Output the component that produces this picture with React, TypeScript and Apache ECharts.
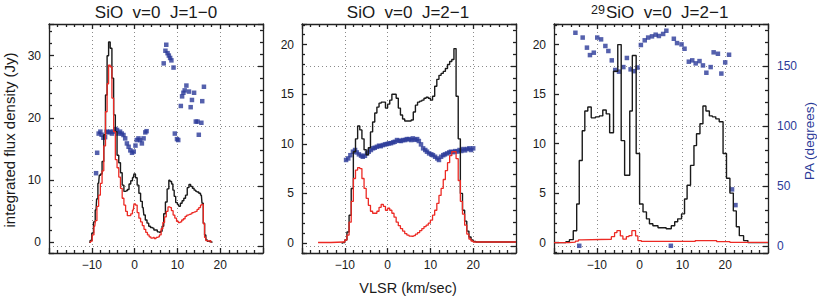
import React, { useEffect, useRef } from "react";
import * as echarts from "echarts";

const FONT = "'Liberation Sans', Arial, Helvetica, sans-serif";
const BLUE = "#2b3a98";
const RED = "#ec2a24";
const BLACK = "#1a1a1a";
const FRAME = "#222222";

// ---------- Panel 1 : SiO v=0 J=1-0 ----------
const p1Total: [number, number][] = [
  [-10.6, 0], [-10.2, 0.3], [-9.8, 1.5], [-9.4, 3.3], [-9.0, 5.2], [-8.75, 7], [-8.4, 9.5], [-8.1, 10.8],
  [-7.8, 11], [-7.4, 13], [-7.0, 17.3], [-6.6, 23.7], [-6.25, 30], [-5.9, 32.2], [-5.5, 31.2], [-5.1, 26.4],
  [-4.7, 20.5], [-4.3, 17.8], [-3.9, 14], [-3.5, 12.8], [-3.1, 11.2], [-2.7, 9.2], [-2.3, 8.2], [-1.9, 8.3],
  [-1.5, 8.5], [-1.1, 9.4], [-0.7, 9.9], [-0.3, 10.4], [0.0, 11.0], [0.4, 10.4], [0.8, 9.2], [1.2, 7.9],
  [1.6, 6.6], [2.0, 5.6], [2.3, 4.4], [2.7, 3.6], [3.1, 3.1], [3.5, 2.6], [3.9, 2.4], [4.3, 2.3], [4.7, 2.0],
  [5.1, 2.0], [5.5, 1.7], [5.9, 1.6], [6.25, 1.8], [6.6, 2.6], [7.0, 4.6], [7.4, 6.5], [7.8, 8.6],
  [8.2, 10.0], [8.5, 9.8], [8.8, 9.4], [9.1, 8.4], [9.4, 7.4], [9.8, 6.4], [10.2, 6.1], [10.5, 5.8],
  [10.9, 6.3], [11.3, 6.7], [11.7, 7.1], [12.1, 7.6], [12.5, 8.8], [12.9, 9.3], [13.3, 9.0], [13.7, 8.7],
  [14.1, 8.4], [14.5, 8.2], [14.8, 8.1], [15.2, 7.9], [15.6, 7.6], [15.9, 6.3], [16.2, 3.1], [16.5, 1.2],
  [16.8, 0.4], [17.2, 0.2], [17.6, 0.1], [18.2, 0],
];
const p1Pol: [number, number][] = [
  [-10.5, 0], [-10.1, 0.2], [-9.7, 1.2], [-9.3, 2.6], [-9.0, 3.5], [-8.6, 5.8], [-8.2, 7.6], [-7.8, 9.5],
  [-7.4, 11.5], [-7.0, 15.5], [-6.6, 21], [-6.25, 25.5], [-5.9, 28.5], [-5.5, 28.2], [-5.1, 23.2],
  [-4.7, 17.8], [-4.3, 13.3], [-3.9, 12], [-3.5, 10.5], [-3.1, 8.7], [-2.7, 7.1], [-2.3, 6.0], [-1.9, 5.0],
  [-1.5, 4.3], [-1.1, 4.3], [-0.7, 4.6], [-0.3, 5.2], [0.0, 6.2], [0.4, 6.0], [0.8, 4.8], [1.2, 3.9],
  [1.6, 3.3], [2.0, 2.7], [2.4, 2.1], [2.8, 1.6], [3.2, 1.2], [3.6, 0.9], [4.0, 0.7], [4.4, 0.8], [4.8, 0.6],
  [5.2, 0.8], [5.6, 0.9], [6.0, 1.2], [6.4, 2.2], [6.8, 3.2], [7.2, 4.1], [7.6, 5.0], [8.0, 5.7], [8.4, 5.6],
  [8.8, 5.1], [9.2, 4.4], [9.6, 3.9], [10.0, 3.4], [10.4, 3.2], [10.8, 3.3], [11.2, 3.6], [11.6, 3.8],
  [12.0, 4.2], [12.4, 4.4], [12.8, 4.5], [13.2, 4.6], [13.6, 4.8], [14.0, 4.9], [14.4, 5.0], [14.8, 5.3],
  [15.2, 5.6], [15.6, 6.0], [15.9, 6.1], [16.2, 3.0], [16.5, 0.8], [16.8, 0.3], [17.2, 0.2], [17.6, 0.3],
  [18.0, 0.05],
];
const p1PA: [number, number][] = [
  [-9.0, 61], [-8.75, 78], [-8.4, 94], [-8.0, 95.6], [-7.7, 93], [-7.3, 90.5], [-6.9, 91], [-6.5, 95.6],
  [-6.1, 95], [-5.7, 95.6], [-5.3, 94], [-4.9, 95.6], [-4.5, 97.8], [-4.1, 97], [-3.75, 94], [-3.4, 95.6],
  [-3.0, 94], [-2.6, 92.8], [-2.2, 90], [-1.8, 85.8], [-1.4, 83], [-1.0, 80], [-0.6, 78], [-0.2, 79],
  [0.2, 84], [0.5, 88.6], [0.9, 90], [1.3, 88.6], [1.7, 85.8], [2.1, 90], [2.5, 95], [2.8, 96],
  [6.8, 152.5], [7.2, 163], [7.4, 168], [7.7, 161], [8.0, 159], [8.3, 157], [8.6, 155], [9.1, 149],
  [9.4, 94], [9.9, 89.4], [10.2, 88.6], [10.8, 117], [11.1, 125], [11.4, 128], [11.7, 130], [12.1, 134],
  [12.7, 129], [13.1, 116], [13.4, 122], [13.9, 128], [14.3, 104], [14.7, 104], [15.0, 93], [15.6, 103],
  [15.8, 121], [16.2, 133],
];

// ---------- Panel 2 : SiO v=0 J=2-1 ----------
const p2Total: [number, number][] = [
  [-10.75, 0], [-10.25, 0.05], [-9.75, 0.3], [-9.25, 1.1], [-8.75, 2.8], [-8.25, 5.5], [-7.75, 9.2],
  [-7.25, 10.5], [-6.75, 11.8], [-6.25, 11.4], [-5.75, 10.5], [-5.25, 9.4], [-4.75, 8.9], [-4.25, 9.6],
  [-3.75, 11.2], [-3.25, 12.2], [-2.75, 13.1], [-2.25, 13.7], [-1.75, 14.1], [-1.25, 14.2], [-0.75, 14.2],
  [-0.25, 13.6], [0.25, 14.0], [0.75, 14.4], [1.25, 15.0], [1.75, 15.0], [2.25, 14.6], [2.75, 13.6],
  [3.25, 12.9], [3.75, 12.5], [4.25, 12.3], [4.75, 12.3], [5.25, 12.3], [5.75, 12.4], [6.25, 13.2],
  [6.75, 13.9], [7.25, 14.2], [7.75, 14.3], [8.25, 14.4], [8.75, 14.6], [9.25, 14.7], [9.75, 14.6],
  [10.25, 14.4], [10.75, 14.8], [11.25, 15.8], [11.75, 16.5], [12.25, 16.9], [12.75, 17.1], [13.25, 17.3],
  [13.75, 17.6], [14.25, 18.0], [14.75, 18.3], [15.25, 18.5], [15.75, 19.6], [16.25, 14.8], [16.75, 10.5],
  [17.25, 5.0], [17.75, 3.3], [18.25, 2.2], [18.75, 1.2], [19.25, 0.6], [19.75, 0.3], [20.25, 0.15],
  [20.75, 0.1], [30, 0.1],
];
const p2Pol: [number, number][] = [
  [-16.25, 0.05], [-10.25, 0.1], [-9.75, 0.3], [-9.25, 0.8], [-8.75, 2.1], [-8.25, 4.2], [-7.75, 6.5],
  [-7.25, 7.35], [-6.75, 7.6], [-6.25, 7.5], [-5.75, 6.5], [-5.25, 5.5], [-4.75, 4.5], [-4.25, 3.8],
  [-3.75, 3.2], [-3.25, 3.0], [-2.75, 3.0], [-2.25, 3.2], [-1.75, 3.6], [-1.25, 3.9], [-0.75, 3.7],
  [-0.25, 3.3], [0.25, 3.5], [0.75, 3.3], [1.25, 3.0], [1.75, 2.6], [2.25, 2.1], [2.75, 1.75], [3.25, 1.45],
  [3.75, 1.2], [4.25, 0.95], [4.75, 0.8], [5.25, 0.7], [5.75, 0.68], [6.25, 0.75], [6.75, 0.9], [7.25, 1.05],
  [7.75, 1.25], [8.25, 1.45], [8.75, 1.65], [9.25, 1.8], [9.75, 2.0], [10.25, 2.3], [10.75, 2.8], [11.25, 3.3],
  [11.75, 4.0], [12.25, 4.8], [12.75, 5.5], [13.25, 6.4], [13.75, 7.3], [14.25, 8.1], [14.75, 8.8],
  [15.25, 9.2], [15.75, 9.2], [16.25, 8.5], [16.75, 6.3], [17.25, 4.2], [17.75, 2.9], [18.25, 1.8],
  [18.75, 0.9], [19.25, 0.4], [19.75, 0.2], [20.25, 0.1], [30, 0.1],
];
const p2PA: [number, number][] = [
  [-9.7, 72], [-9.2, 73.3], [-8.7, 76], [-8.1, 78.9], [-7.6, 80.3], [-7.2, 78.3], [-6.7, 76.7], [-6.2, 75.6],
  [-5.8, 74.7], [-5.3, 75.5], [-4.8, 77.5], [-4.4, 78.9], [-3.9, 80.3], [-3.4, 81.7], [-3.0, 82.2],
  [-2.5, 83], [-2.0, 83.9], [-1.6, 83.5], [-1.1, 84.4], [-0.6, 85], [-0.15, 85.3], [0.3, 85.8], [0.8, 86],
  [1.3, 86.7], [1.7, 87.2], [2.2, 88.6], [2.7, 88], [3.1, 87.8], [3.6, 88.6], [4.1, 88.6], [4.5, 89.4],
  [5.0, 89.4], [5.5, 88.6], [5.9, 90], [6.4, 88.8], [6.9, 89.4], [7.3, 87.8], [7.8, 85], [8.3, 81.7],
  [8.8, 80.3], [9.2, 78.9], [9.7, 77.5], [10.2, 76.7], [10.6, 76], [11.1, 74.7], [11.6, 73.3], [12.0, 72],
  [12.5, 74.7], [13.0, 76], [13.4, 76.7], [13.9, 77.5], [14.4, 78.3], [14.8, 78.9], [15.3, 78.5],
  [15.8, 79.4], [16.3, 79], [16.8, 80.3], [17.2, 79.5], [17.7, 81.1], [18.1, 80], [18.6, 81.1],
  [19.1, 81.7], [19.5, 80.3], [20.0, 81.7],
];

// ---------- Panel 3 : 29SiO v=0 J=2-1 (channel left edge, value) ----------
const p3Total: [number, number][] = [
  [-20, 0], [-17.2, 0.1], [-16.4, 0.3], [-15.5, 1.2], [-14.7, 3.9], [-14.1, 8.3], [-13.4, 11.3],
  [-12.8, 13.3], [-12.1, 13.7], [-11.3, 12.6], [-10.3, 12.7], [-9.4, 12.8], [-8.6, 13.4], [-7.8, 13.0],
  [-7.0, 11.1], [-6.1, 17.3], [-5.1, 20.0], [-4.3, 10.3], [-3.5, 6.8], [-2.3, 13.3], [-1.7, 18.9],
  [-0.8, 9.0], [0.0, 3.9], [0.8, 3.1], [1.6, 2.4], [2.3, 1.9], [3.1, 1.7], [4.3, 1.5], [6.2, 1.4],
  [7.4, 1.7], [8.2, 2.1], [8.9, 2.4], [9.8, 2.9], [10.5, 4.4], [11.1, 5.8], [11.9, 7.8], [12.7, 9.8],
  [13.3, 11.0], [14.1, 12.0], [14.8, 13.8], [15.5, 13.3], [16.3, 12.8], [17.0, 12.7], [17.8, 12.5],
  [18.6, 12.2], [19.5, 9.0], [20.3, 6.5], [21.1, 5.0], [21.9, 3.2], [22.6, 1.6], [23.3, 0.7], [24.3, 0.2],
  [25.3, 0], [30, 0],
];
const p3Pol: [number, number][] = [
  [-20, 0.0], [-16.5, 0.05], [-15.0, 0.15], [-14.3, 0.27], [-13.5, 0.34], [-6.6, 0.6], [-5.85, 1.0],
  [-5.3, 1.2], [-4.5, 0.67], [-3.9, 0.35], [-3.1, 0.6], [-2.5, 0.7], [-1.8, 1.2], [-0.94, 0.67],
  [-0.4, 0.2], [0.4, 0.12], [13.0, 0.2], [18.0, 0.1], [21.1, 0.02], [30, 0.02],
];
const p3PA: [number, number][] = [
  [-15.0, 178], [-13.3, 174], [-12.3, 165.6], [-11.6, 159.4], [-10.7, 161.4], [-9.9, 174], [-9.0, 172.5],
  [-8.0, 167], [-7.3, 162.8], [-6.5, 155], [-5.7, 147], [-4.8, 145.6], [-3.8, 149.4], [-2.97, 157],
  [-2.1, 147.5], [-1.3, 146], [-0.5, 149], [0.3, 167.8], [1.2, 171.7], [2.0, 174], [2.9, 175],
  [3.75, 176.4], [4.5, 175.3], [5.5, 177], [6.25, 179.7], [8.0, 173], [8.75, 169.4], [9.8, 168.3],
  [10.5, 164.7], [11.5, 153.9], [12.3, 155], [13.1, 152.5], [14.0, 154.4], [14.8, 150.8], [15.6, 144.7],
  [16.6, 149.4], [17.3, 161.7], [18.3, 160.5], [19.1, 144], [20.0, 153.3], [20.9, 159.7], [21.6, 47.5],
  [22.4, 34.4], [-14.1, 0.5], [7.3, 0.5],
];

const titles = ["SiO  v=0  J=1\u22120", "SiO  v=0  J=2\u22121", "SiO  v=0  J=2\u22121"];
const isotopeSup = ["", "", "29"];
const velRange = [-20, 30];
const fluxRanges: [number, number][] = [[-1.7, 35.1], [-1.01, 22.08], [-1.05, 22.08]];
const paRange = [-5.5, 185.3];
const yName = "integrated flux density (Jy)";
const xName = "VLSR (km/sec)";
const paName = "PA (degrees)";

const gridLefts = [49, 302, 554];
const GRID_TOP = 24;
const GRID_W = 214;
const GRID_H = 229;

const fmt = (v: number) => String(v).replace("-", "\u2212");

export default function App() {
  const ref = useRef<HTMLDivElement>(null);
  useEffect(() => {
    document.body.style.margin = "0";
    const chart = echarts.init(ref.current!, null, { renderer: "svg" });
    const lineStyle = { color: FRAME, width: 1.3 };
    const dotted = { color: "#8a8a8a", width: 1, type: [1, 3] as any };

    const grid: any[] = [];
    const xAxis: any[] = [];
    const yAxis: any[] = [];
    const series: any[] = [];
    const totals = [p1Total, p2Total, p3Total];
    const pols = [p1Pol, p2Pol, p3Pol];
    const pas = [p1PA, p2PA, p3PA];
    const steps = ["middle", "middle", "end"];

    for (let i = 0; i < 3; i++) {
      grid.push({ left: gridLefts[i], top: GRID_TOP, width: GRID_W, height: GRID_H, containLabel: false });
      xAxis.push({
        type: "value", gridIndex: i, min: velRange[0], max: velRange[1], splitNumber: 5, position: "bottom",
        axisLine: { show: true, onZero: false, lineStyle },
        axisTick: { show: true, inside: true, length: 5, lineStyle },
        minorTick: { show: true, splitNumber: 5, length: 3, lineStyle },
        axisLabel: {
          show: true, margin: 6, fontSize: 12, fontFamily: FONT, color: BLACK,
          formatter: (v: number) => (v % 10 === 0 && v > velRange[0] && v < velRange[1] ? fmt(v) : ""),
        },
        splitLine: { show: true, lineStyle: dotted },
      });
      xAxis.push({
        type: "value", gridIndex: i, min: velRange[0], max: velRange[1], splitNumber: 5, position: "top",
        axisLine: { show: true, onZero: false, lineStyle },
        axisTick: { show: true, inside: true, length: 5, lineStyle },
        minorTick: { show: true, splitNumber: 5, length: 3, lineStyle },
        axisLabel: { show: false },
        splitLine: { show: false },
      });
      const step = i === 0 ? 10 : 5;
      yAxis.push({
        type: "value", gridIndex: i, min: fluxRanges[i][0], max: fluxRanges[i][1], splitNumber: 5, position: "left",
        axisLine: { show: true, onZero: false, lineStyle },
        axisTick: { show: true, inside: true, length: 5, lineStyle },
        minorTick: { show: true, splitNumber: 5, length: 3, lineStyle },
        axisLabel: {
          show: true, margin: 8, fontSize: 12, fontFamily: FONT, color: BLACK,
          formatter: (v: number) => (Math.abs(v / step - Math.round(v / step)) < 1e-6 ? fmt(v) : ""),
        },
        splitLine: { show: false },
      });
      yAxis.push({
        type: "value", gridIndex: i, min: paRange[0], max: paRange[1], splitNumber: 4, position: "right",
        axisLine: { show: true, onZero: false, lineStyle },
        axisTick: { show: true, inside: true, length: 5, lineStyle },
        minorTick: { show: true, splitNumber: 5, length: 3, lineStyle },
        axisLabel: {
          show: i === 2, margin: 9, fontSize: 12, fontFamily: FONT, color: BLUE,
          formatter: (v: number) => (v % 50 === 0 ? String(v) : ""),
        },
        splitLine: { show: true, lineStyle: dotted },
      });
      series.push({
        type: "scatter", xAxisIndex: 2 * i, yAxisIndex: 2 * i + 1, data: pas[i], symbol: "rect",
        symbolSize: 4.5, itemStyle: { color: BLUE }, z: 2,
      });
      series.push({
        type: "line", xAxisIndex: 2 * i, yAxisIndex: 2 * i, data: totals[i], step: steps[i], showSymbol: false,
        symbol: "none", lineStyle: { color: BLACK, width: 1.4 }, z: 3,
      });
      series.push({
        type: "line", xAxisIndex: 2 * i, yAxisIndex: 2 * i, data: pols[i], step: steps[i], showSymbol: false,
        symbol: "none", lineStyle: { color: RED, width: 1.3 }, z: 4,
      });
    }

    const textStyle = (text: string, size: number, color: string, align: string) => ({
      text, fontSize: size, fontFamily: FONT, fill: color,
      align, verticalAlign: "middle", textAlign: align, textVerticalAlign: "middle",
    });

    const graphic: any[] = [
      { type: "text", x: 156, y: 12, style: textStyle(titles[0], 17, BLACK, "center") },
      { type: "text", x: 408, y: 12, style: textStyle(titles[1], 17, BLACK, "center") },
      { type: "text", x: 606, y: 12, style: textStyle(titles[2], 17, BLACK, "left") },
      { type: "text", x: 605, y: 9.5, style: textStyle(isotopeSup[2], 12.5, BLACK, "right") },
      { type: "text", x: 9.5, y: 140, rotation: Math.PI / 2, style: textStyle(yName, 15, BLACK, "center") },
      { type: "text", x: 809, y: 141, rotation: Math.PI / 2, style: textStyle(paName, 13.5, BLUE, "center") },
      { type: "text", x: 408, y: 288, style: textStyle(xName, 14.5, BLACK, "center") },
    ];

    chart.setOption({
      animation: false,
      backgroundColor: "#ffffff",
      grid, xAxis, yAxis, series, graphic,
    });
    return () => chart.dispose();
  }, []);
  return <div ref={ref} style={{ position: "absolute", left: 0, top: 0, width: 817, height: 296 }} />;
}
